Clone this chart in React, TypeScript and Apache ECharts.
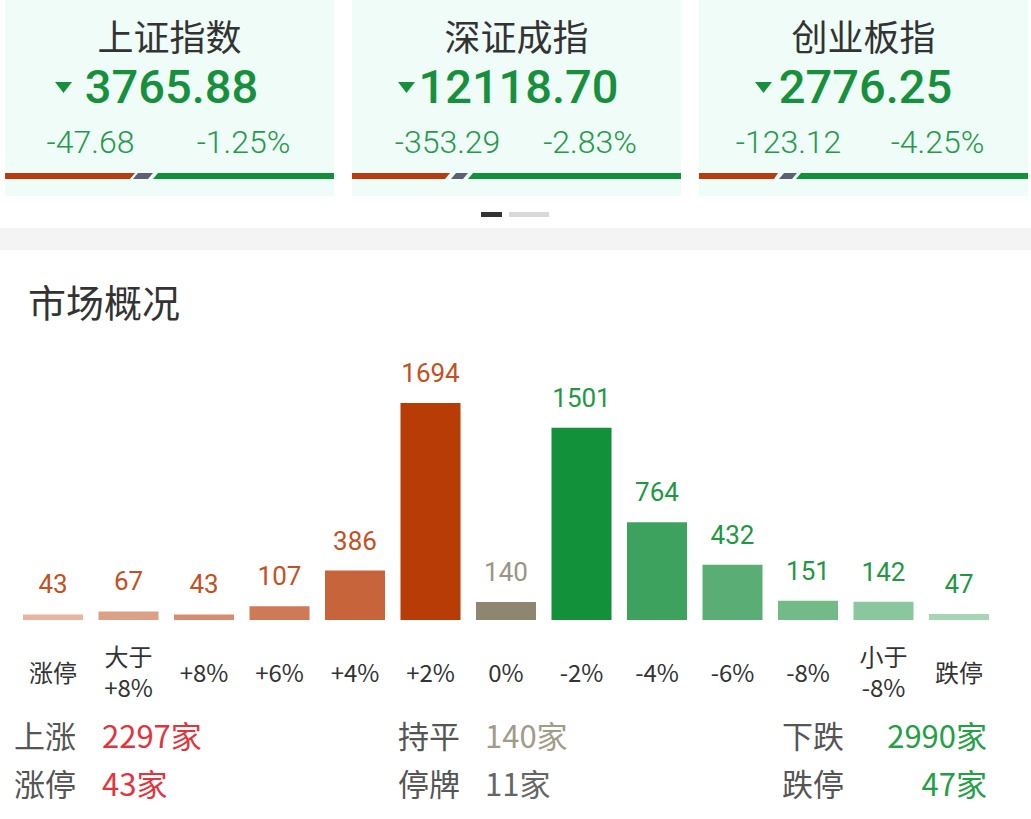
import React, { useEffect, useRef } from "react";
import * as echarts from "echarts";

const categories = ["涨停", "大于\n+8%", "+8%", "+6%", "+4%", "+2%", "0%", "-2%", "-4%", "-6%", "-8%", "小于\n-8%", "跌停"];
const counts = [43, 67, 43, 107, 386, 1694, 140, 1501, 764, 432, 151, 142, 47];
const barColors = ["#e6b6a1", "#dca086", "#d68c6e", "#cf7a56", "#c8643c", "#b83c06", "#8f8672", "#12903a", "#3ea25f", "#5aae75", "#72bb89", "#8ac79e", "#a6d5b5"];
const labelColors = ["#c4501f", "#c4501f", "#c4501f", "#c4501f", "#c4501f", "#c4501f", "#9b9484", "#1f9843", "#1f9843", "#1f9843", "#1f9843", "#1f9843", "#1f9843"];

const indexNames = ["上证指数", "深证成指", "创业板指"];
const indexValues = ["3765.88", "12118.70", "2776.25"];
const indexChanges = ["-47.68", "-353.29", "-123.12"];
const indexPcts = ["-1.25%", "-2.83%", "-4.25%"];

const statLabels = [["上涨", "涨停"], ["持平", "停牌"], ["下跌", "跌停"]];
const statValues = [["2297家", "43家"], ["140家", "11家"], ["2990家", "47家"]];
const statColors = [["#e3343d", "#e3343d"], ["#a19b8a", "#666666"], ["#23a046", "#23a046"]];

const CJK = "'Noto Sans CJK SC', 'Noto Sans', sans-serif";
const NUM = "Roboto, 'Noto Sans CJK SC', sans-serif";

function txt(text: string, x: number, y: number, size: number, fill: string, align = "center", family = CJK, weight: any = "normal") {
  return {
    type: "text",
    x,
    y,
    style: {
      text,
      fill,
      fontSize: size,
      fontFamily: family,
      fontWeight: weight,
      textAlign: align,
      textVerticalAlign: "middle",
      align,
      verticalAlign: "middle",
    },
  };
}

export default function App() {
  const ref = useRef<HTMLDivElement>(null);
  useEffect(() => {
    if (!ref.current) return;
    const chart = echarts.init(ref.current, undefined, { renderer: "svg" });

    const cards = [
      { l: 5, r: 334, red: [135, 130], grey: [138, 153, 133, 148], green: [158, 153], tri: 55, c1: 90.5, c2: 243.5 },
      { l: 352, r: 681, red: [450, 445], grey: [456, 468, 451, 463], green: [473, 468], tri: 398, c1: 447.5, c2: 590 },
      { l: 699, r: 1028, red: [778, 774], grey: [784, 797, 779, 792], green: [801, 796], tri: 755, c1: 788.5, c2: 937.5 },
    ];
    const graphics: any[] = [];
    cards.forEach((c, i) => {
      const cx = (c.l + c.r) / 2;
      graphics.push({ type: "rect", shape: { x: c.l, y: 0, width: c.r - c.l, height: 196 }, style: { fill: "#effcf7" } });
      graphics.push(txt(indexNames[i], cx, 35, 36, "#333333"));
      graphics.push(txt(indexValues[i], cx + 2, 86, 47, "#16903c", "center", NUM, 500));
      graphics.push({
        type: "polygon",
        shape: { points: [[c.tri, 82], [c.tri + 17, 82], [c.tri + 8.5, 93]] },
        style: { fill: "#16903c" },
      });
      graphics.push(txt(indexChanges[i], c.c1, 142, 32, "#24994a", "center", NUM, 300));
      graphics.push(txt(indexPcts[i], c.c2, 142, 32, "#24994a", "center", NUM, 300));
      graphics.push({ type: "polygon", shape: { points: [[c.l, 173], [c.red[0], 173], [c.red[1], 179], [c.l, 179]] }, style: { fill: "#b83c0e" } });
      graphics.push({ type: "polygon", shape: { points: [[c.grey[2], 179], [c.grey[0], 173], [c.grey[1], 173], [c.grey[3], 179]] }, style: { fill: "#5b6172" } });
      graphics.push({ type: "polygon", shape: { points: [[c.green[1], 179], [c.green[0], 173], [c.r, 173], [c.r, 179]] }, style: { fill: "#12913a" } });
    });
    graphics.push({ type: "rect", shape: { x: 481, y: 212, width: 21, height: 5 }, style: { fill: "#333333" } });
    graphics.push({ type: "rect", shape: { x: 509, y: 212, width: 40, height: 5 }, style: { fill: "#d9d9d9" } });
    graphics.push({ type: "rect", shape: { x: 0, y: 228, width: 1031, height: 22 }, style: { fill: "#f4f4f4" } });
    graphics.push(txt("市场概况", 28, 300, 38, "#333333", "left"));

    const colX = [[14, 102, "left"], [398, 485, "left"], [782, 987, "right"]];
    const rowY = [734, 782];
    statLabels.forEach((col, ci) => {
      col.forEach((lab, ri) => {
        graphics.push(txt(lab, colX[ci][0] as number, rowY[ri], 31, "#555555", "left"));
        graphics.push(txt(statValues[ci][ri], colX[ci][1] as number, rowY[ri], 31, statColors[ci][ri], colX[ci][2] as string));
      });
    });

    chart.setOption({
      animation: false,
      backgroundColor: "#ffffff",
      grid: { left: 15.25, width: 981.5, top: 360, height: 260, containLabel: false },
      xAxis: {
        type: "category",
        data: categories,
        axisLine: { show: false },
        axisTick: { show: false },
        axisLabel: {
          interval: 0,
          margin: 51,
          verticalAlign: "middle",
          lineHeight: 31,
          fontSize: 24,
          color: "#333333",
          fontFamily: CJK,
        },
      },
      yAxis: { type: "value", min: 0, max: 2030, show: false, splitLine: { show: false } },
      series: [
        {
          type: "bar",
          barWidth: 60,
          data: counts.map((v, i) => ({
            value: v,
            itemStyle: { color: barColors[i] },
            label: { color: labelColors[i] },
          })),
          label: {
            show: true,
            position: "top",
            distance: 17,
            fontSize: 26,
            fontFamily: NUM,
          },
        },
      ],
      graphic: graphics,
    });
    return () => chart.dispose();
  }, []);
  return <div ref={ref} style={{ position: "absolute", left: 0, top: 0, width: 1031, height: 819 }} />;
}
